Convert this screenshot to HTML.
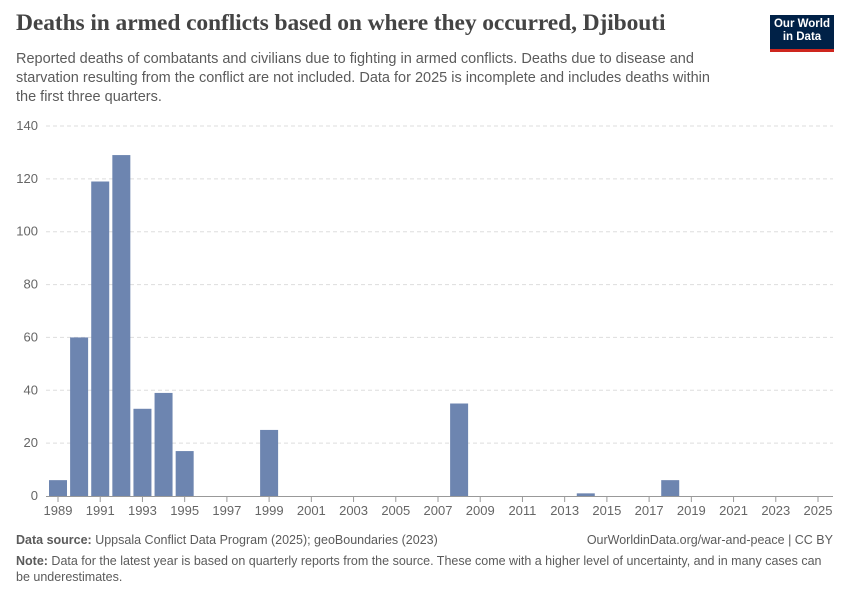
<!DOCTYPE html>
<html><head><meta charset="utf-8"><style>
body{margin:0;background:#fff;font-family:"Liberation Sans",sans-serif;}
#wrap{position:relative;width:850px;height:600px;overflow:hidden;}
h1{position:absolute;left:16px;top:10px;margin:0;font-family:"Liberation Serif",serif;font-size:23.5px;font-weight:bold;color:#444;letter-spacing:-0.1px;}
.sub{position:absolute;left:16px;top:50px;width:705px;font-size:14.5px;line-height:19px;color:#5b5b5b;}
.logo{position:absolute;left:770px;top:15px;width:64px;height:37px;background:#002147;color:#fff;font-size:11.5px;font-weight:bold;line-height:13px;text-align:center;padding-top:3px;box-sizing:border-box;border-bottom:3px solid #ce261e;}
.foot{position:absolute;font-size:12.5px;color:#5b5b5b;}
</style></head><body><div id="wrap">
<h1>Deaths in armed conflicts based on where they occurred, Djibouti</h1>
<div class="sub">Reported deaths of combatants and civilians due to fighting in armed conflicts. Deaths due to disease and starvation resulting from the conflict are not included. Data for 2025 is incomplete and includes deaths within the first three quarters.</div>
<div class="logo">Our World<br>in Data</div>
<svg id="svg" width="850" height="600" style="position:absolute;left:0;top:0"></svg>
<div class="foot" style="left:16px;top:533px"><b>Data source:</b> Uppsala Conflict Data Program (2025); geoBoundaries (2023)</div>
<div class="foot" style="right:17px;top:533px">OurWorldinData.org/war-and-peace | CC BY</div>
<div class="foot" style="left:16px;top:553px;width:810px;line-height:16px"><b>Note:</b> Data for the latest year is based on quarterly reports from the source. These come with a higher level of uncertainty, and in many cases can be underestimates.</div>
</div>
<script>
const years=[1989,1990,1991,1992,1993,1994,1995,1999,2008,2014,2018];
const deaths=[6,60,119,129,33,39,17,25,35,1,6];
const yTicks=[0,20,40,60,80,100,120,140];
const xTicks=[1989,1991,1993,1995,1997,1999,2001,2003,2005,2007,2009,2011,2013,2015,2017,2019,2021,2023,2025];
const NS="http://www.w3.org/2000/svg";
const svg=document.getElementById('svg');
const y=v=>496-v*(370/140);
const x=yr=>58+(yr-1989)*(760/36);
function mk(t,a){const e=document.createElementNS(NS,t);for(const k in a)e.setAttribute(k,a[k]);svg.appendChild(e);return e;}
yTicks.forEach(v=>{
 if(v>0){const l=mk('line',{x1:46,x2:833,y1:y(v),y2:y(v),stroke:'#ddd','stroke-dasharray':'4,3'});
 
 }
 const t=mk('text',{x:38,y:y(v)+4,'text-anchor':'end','font-size':13,fill:'#666','font-family':'Liberation Sans'});t.textContent=v;
 
 
});
const ax=mk('line',{x1:46,x2:833,y1:496.5,y2:496.5,stroke:'#999'});


xTicks.forEach(v=>{
 const tk=mk('line',{x1:x(v),x2:x(v),y1:497,y2:502,stroke:'#999'});
 
 
 const t=mk('text',{x:x(v),y:515,'text-anchor':'middle','font-size':13,fill:'#666','font-family':'Liberation Sans'});t.textContent=v;
 
 
});
years.forEach((yr,i)=>{
 const r=mk('rect',{x:x(yr)-9,y:y(deaths[i]),width:18,height:496-y(deaths[i]),fill:'#6d85b0'});
 
 
});
</script></body></html>
